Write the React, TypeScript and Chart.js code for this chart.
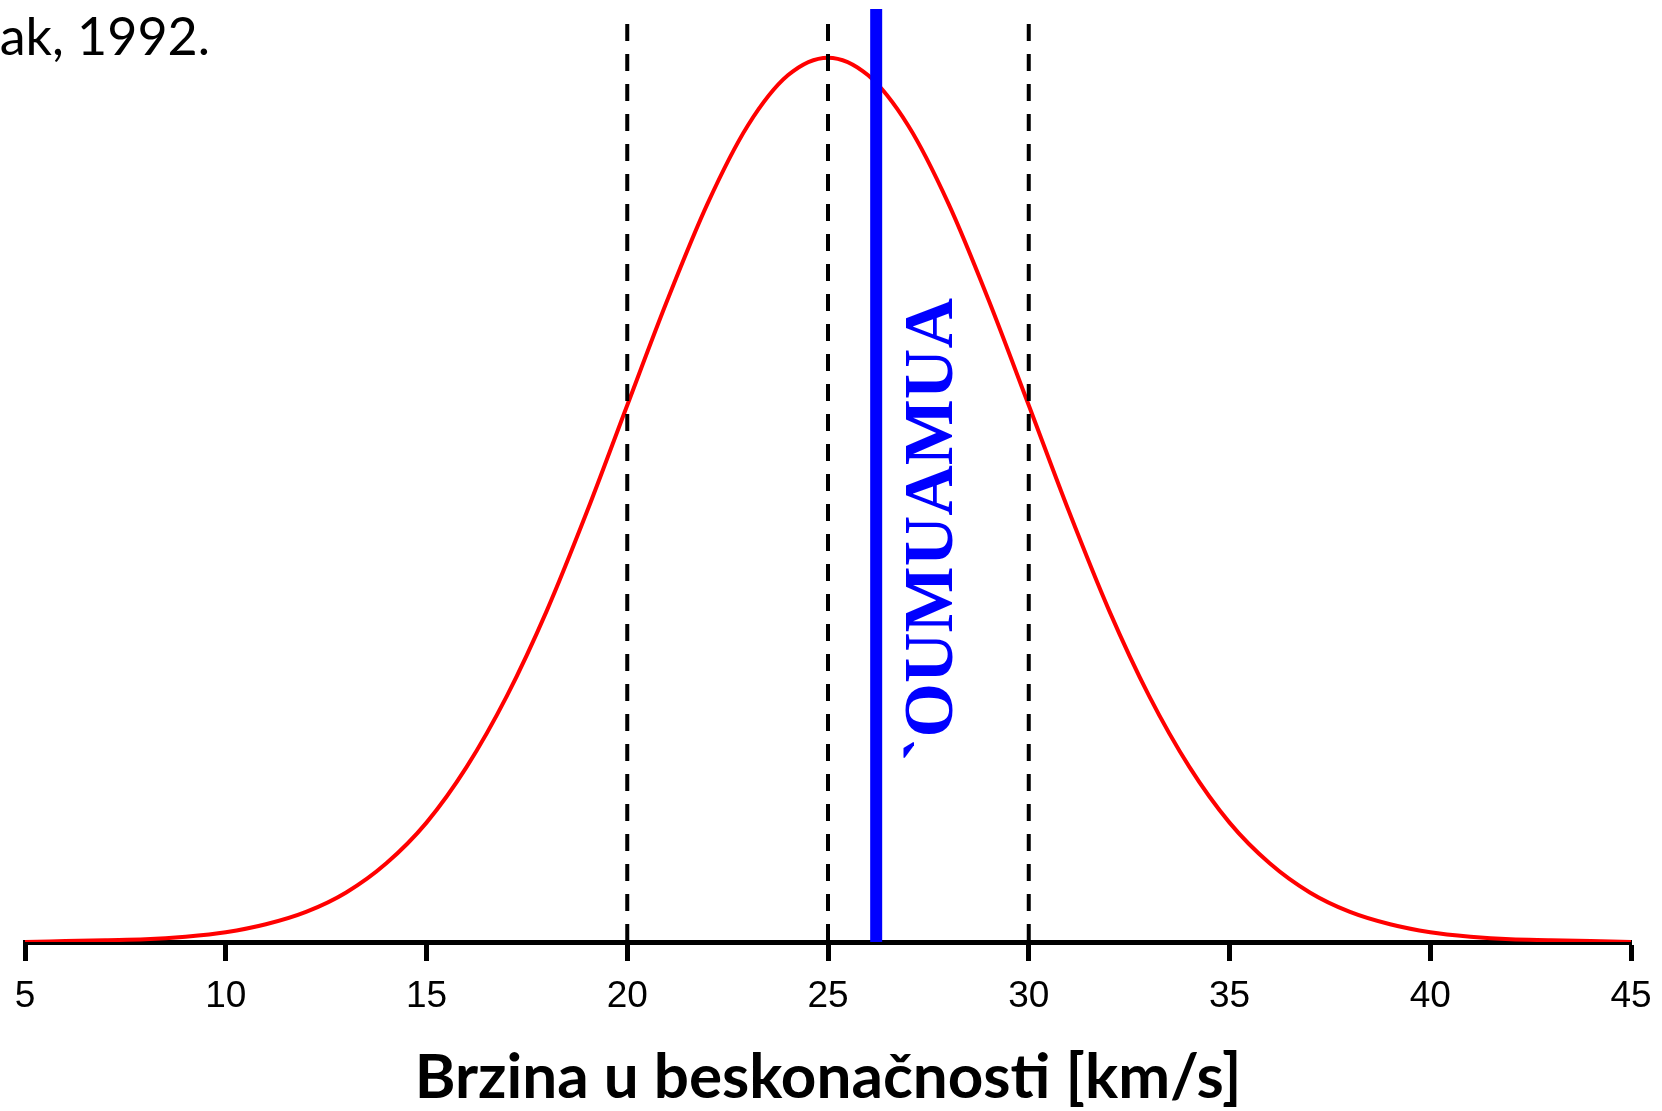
import React, { useEffect, useRef } from 'react';
import { Chart, registerables } from 'chart.js';

Chart.register(...registerables);

// Distribution of hyperbolic excess speeds (relative frequency, peak = 1)
const speeds = [
  5, 6, 7, 8, 9, 10, 11, 12, 13, 14, 15, 16, 17, 18, 19, 20, 21, 22, 23, 24, 25,
  26, 27, 28, 29, 30, 31, 32, 33, 34, 35, 36, 37, 38, 39, 40, 41, 42, 43, 44, 45,
];
const frequency = [
  0.0, 0.001, 0.002, 0.003, 0.006, 0.011, 0.02, 0.034, 0.056, 0.089, 0.135, 0.198, 0.278, 0.375, 0.487, 0.607, 0.726, 0.835, 0.923, 0.98, 1.0,
  0.98, 0.923, 0.835, 0.726, 0.607, 0.487, 0.375, 0.278, 0.198, 0.135, 0.089, 0.056, 0.034, 0.02, 0.011, 0.006, 0.003, 0.002, 0.001, 0.0,
];

// Mean and ±1σ markers
const sigmaLines = [20, 25, 30];
const sigmaLineTop = 1.038;

// Measured speed of 'Oumuamua
const oumuamuaSpeed = 26.2;
const oumuamuaLabel = '`OUMUAMUA';
const labelAnchor = { x: 28.1, y: 0.205 };

const xTicks = [5, 10, 15, 20, 25, 30, 35, 40, 45];
const yMax = 1.055;

const axisTitle = 'Brzina u beskonačnosti [km/s]';
const sourceNote = 'ak, 1992.';

const textPlugin = {
  id: 'textOverlay',
  afterDatasetsDraw(chart: any) {
    const { ctx, scales } = chart;
    const x = scales.x;
    const y = scales.y;
    ctx.save();
    ctx.translate(x.getPixelForValue(labelAnchor.x), y.getPixelForValue(labelAnchor.y));
    ctx.rotate(-Math.PI / 2);
    ctx.font = 'bold 70px "Liberation Serif", "Times New Roman", serif';
    ctx.fillStyle = '#0000ff';
    ctx.textAlign = 'left';
    ctx.textBaseline = 'alphabetic';
    ctx.fillText(oumuamuaLabel, 0, 0);
    ctx.restore();

    ctx.save();
    ctx.font = '52px Lato, "Open Sans", sans-serif';
    ctx.fillStyle = '#000000';
    ctx.textAlign = 'right';
    ctx.textBaseline = 'alphabetic';
    ctx.fillText(sourceNote, 210, 55);
    ctx.restore();
  },
};

export default function App() {
  const canvasRef = useRef<HTMLCanvasElement | null>(null);

  useEffect(() => {
    const canvas = canvasRef.current;
    if (!canvas) return;

    const blueLine = {
      label: 'oumuamua',
      data: [
        { x: oumuamuaSpeed, y: 0 },
        { x: oumuamuaSpeed, y: yMax },
      ],
      borderColor: '#0000ff',
      borderWidth: 12,
      pointRadius: 0,
      order: 0,
    };

    const dashed = sigmaLines.map((v, i) => ({
      label: 'sigma' + i,
      data: [
        { x: v, y: sigmaLineTop },
        { x: v, y: 0 },
      ],
      borderColor: '#000000',
      borderWidth: 4,
      borderDash: [17, 13],
      pointRadius: 0,
      order: 1,
    }));

    const curve = {
      label: 'distribucija',
      data: speeds.map((s, i) => ({ x: s, y: frequency[i] })),
      borderColor: '#ff0000',
      borderWidth: 4,
      pointRadius: 0,
      cubicInterpolationMode: 'monotone' as const,
      order: 2,
    };

    const chart = new Chart(canvas, {
      type: 'line',
      data: { datasets: [blueLine, ...dashed, curve] as any },
      options: {
        animation: false,
        responsive: false,
        devicePixelRatio: 1,
        layout: { padding: { left: 25, right: 31, top: 9, bottom: 0 } },
        plugins: { legend: { display: false }, tooltip: { enabled: false } },
        scales: {
          x: {
            type: 'linear',
            min: 5,
            max: 45,
            afterBuildTicks: (axis: any) => {
              axis.ticks = xTicks.map((v) => ({ value: v }));
            },
            afterFit: (axis: any) => {
              axis.height = 169;
            },
            grid: {
              drawOnChartArea: false,
              drawTicks: true,
              tickLength: 19,
              tickWidth: 5,
              tickColor: '#000000',
            },
            border: { display: true, width: 5, color: '#000000' },
            ticks: {
              color: '#000000',
              padding: 0,
              maxRotation: 0,
              font: { family: '"Liberation Sans", Arial, sans-serif', size: 37, lineHeight: 1.92 },
              callback: (v: any) => String(v),
            },
            title: {
              display: true,
              text: axisTitle,
              color: '#000000',
              font: { family: 'Lato, "Open Sans", sans-serif', weight: 'bold', size: 62, lineHeight: 1 },
              padding: { top: 0, bottom: 2 },
            },
          },
          y: {
            display: false,
            min: 0,
            max: yMax,
          },
        },
      },
      plugins: [textPlugin],
    });

    return () => chart.destroy();
  }, []);

  return (
    <div style={{ position: 'absolute', left: 0, top: 0, width: 1662, height: 1111, background: '#ffffff' }}>
      <canvas ref={canvasRef} width={1662} height={1111} style={{ width: 1662, height: 1111, display: 'block' }} />
    </div>
  );
}
